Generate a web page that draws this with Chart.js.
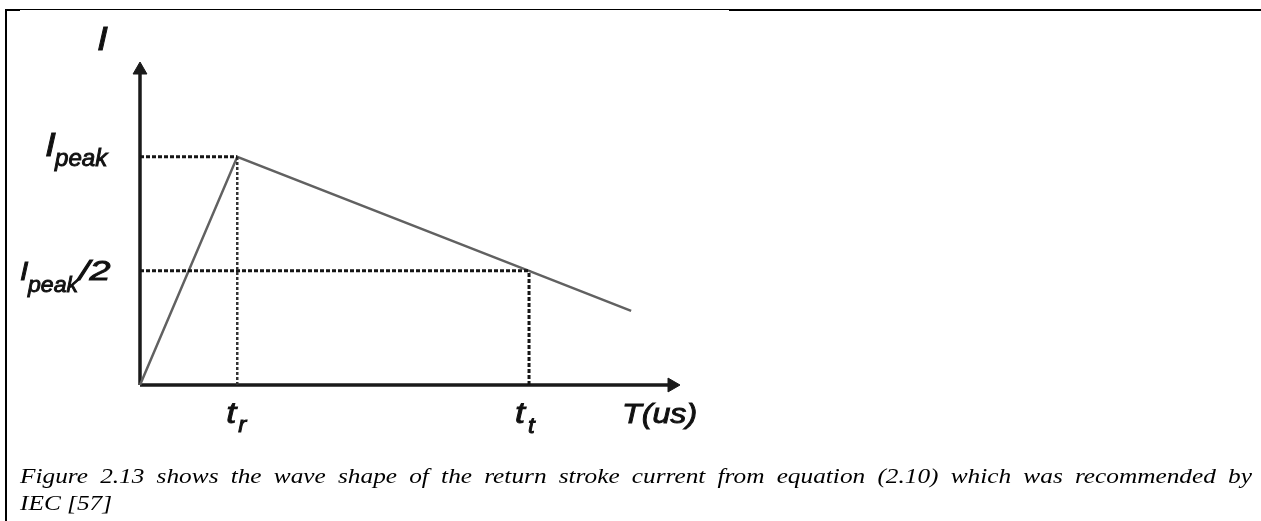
<!DOCTYPE html>
<html>
<head>
<meta charset="utf-8">
<script src="https://cdn.jsdelivr.net/npm/chart.js@4/dist/chart.umd.min.js"></script>
<style>
    html, body { margin: 0; padding: 0; background: #fff; }
    #bordeIzq { position: absolute; left: 5px; top: 9px; width: 2px; height: 512px; background: #000; }
    #bordeSup1 { position: absolute; left: 5px; top: 9px; width: 724px; height: 1px; background: #000; }
    #bordeSup2 { position: absolute; left: 729px; top: 9px; width: 532px; height: 2px; background: #000; }
    #bordeSup3 { position: absolute; left: 5px; top: 9px; width: 15px; height: 2px; background: #000; }
    #canvasGrafica { position: absolute; left: 0; top: 0; }
    .pie { position: absolute; left: 20px; transform-origin: 0 0;
           font-family: "Liberation Serif", "Times New Roman", serif; font-style: italic; font-size: 22px;
           line-height: 27px; color: #000; }
    #pie1 { text-align: justify; text-align-last: justify; }
    #medida { position: absolute; left: 0; top: 600px; white-space: nowrap; visibility: hidden;
              font-family: "Liberation Serif", "Times New Roman", serif; font-style: italic; font-size: 22px; }
</style>
</head>
<body>
<div id="bordeIzq"></div>
<div id="bordeSup1"></div>
<div id="bordeSup2"></div>
<div id="bordeSup3"></div>
<canvas id="canvasGrafica" width="1261" height="521"></canvas>
<div class="pie" id="pie1" style="top: 462px;">Figure 2.13 shows the wave shape of the return stroke current from equation (2.10) which was recommended by</div>
<div class="pie" id="pie2" style="top: 489px;">IEC [57]</div>
<span id="medida"></span>
<script>
// waveform: 0 -> t_r (peak) -> t_t (half) -> end of the drawn tail
var tiempos = [0, 10, 40, 50.5];
var corriente = [0, 1, 0.5, 0.325];
var tr = 10;
var tt = 40;
var iPeak = 1;
var iHalf = 0.5;
var xMax = 54.7;
var yMax = 1.38;

var tituloY = "I";
var tituloX = "T(us)";
var nombresY = ["I", "I"];
var subY = ["peak", "peak"];
var sufijoY = ["", "/2"];
var nombresX = ["t", "t"];
var subX = ["r", "t"];

function punto(x, y) {
    return {x: x, y: y};
}

function escribir(ctx, str, x, y, size, sx) {
    ctx.save();
    ctx.translate(x, y);
    ctx.scale(sx, 1);
    ctx.font = "italic " + size + "px 'Liberation Sans', Arial, sans-serif";
    ctx.fillStyle = "#111";
    ctx.strokeStyle = "#111";
    ctx.lineWidth = 0.9;
    ctx.textBaseline = "alphabetic";
    ctx.fillText(str, 0, 0);
    ctx.strokeText(str, 0, 0);
    ctx.restore();
}

var etiquetas = {
    id: "etiquetas",
    afterDatasetsDraw: function (chart) {
        var ctx = chart.ctx;
        var sx = chart.scales.x;
        var sy = chart.scales.y;
        var x0 = sx.getPixelForValue(0);
        var yTop = sy.getPixelForValue(yMax);
        var yBot = sy.getPixelForValue(0);

        // axis titles
        escribir(ctx, tituloY, x0 - 43, yTop - 20, 34, 1.15);
        escribir(ctx, tituloX, sx.getPixelForValue(xMax) - 50, yBot + 38, 28, 1.15);

        // y labels
        var yp = sy.getPixelForValue(iPeak);
        escribir(ctx, nombresY[0], x0 - 95, yp - 1, 34, 1.15);
        escribir(ctx, subY[0], x0 - 85, yp + 9, 23, 1.05);
        var yh = sy.getPixelForValue(iHalf);
        escribir(ctx, nombresY[1], x0 - 120, yh + 9, 26, 1.15);
        escribir(ctx, subY[1], x0 - 112, yh + 21, 22, 1.05);
        escribir(ctx, sufijoY[1], x0 - 61, yh + 9, 27, 1.4);

        // x labels
        var xr = sx.getPixelForValue(tr);
        escribir(ctx, nombresX[0], xr - 11, yBot + 38, 30, 1.2);
        escribir(ctx, subX[0], xr + 1, yBot + 47, 22, 1.1);
        var xt = sx.getPixelForValue(tt);
        escribir(ctx, nombresX[1], xt - 14, yBot + 38, 30, 1.2);
        escribir(ctx, subX[1], xt - 1, yBot + 48, 22, 1.1);
    }
};

document.addEventListener("DOMContentLoaded", function () {
    // the scanned caption is a little wider than plain Times: stretch it and justify line 1
    var pie1 = document.getElementById("pie1");
    var pie2 = document.getElementById("pie2");
    var medida = document.getElementById("medida");
    medida.textContent = pie1.textContent;
    var natural = medida.getBoundingClientRect().width;
    var escala = Math.min(1.15, 1232 / (natural + 4));
    pie1.style.width = (1232 / escala) + "px";
    pie1.style.transform = "scaleX(" + escala + ")";
    pie2.style.transform = "scaleX(" + escala + ")";

    var canvasGrafica = document.getElementById("canvasGrafica");
    var onda = [];
    for (let i = 0; i < tiempos.length; i++) {
        onda.push(punto(tiempos[i], corriente[i]));
    }

    var punteada = {
        borderColor: "#151515",
        borderWidth: 3,
        borderDash: [4, 2],
        pointRadius: 0,
        showLine: true,
        clip: false
    };

    var miGrafica = new Chart(canvasGrafica, {
        type: "scatter",
        data: {
            datasets: [
                Object.assign({data: [punto(0, iPeak), punto(tr, iPeak)]}, punteada),
                Object.assign({data: [punto(tr, 0), punto(tr, iPeak)]}, punteada, {borderDash: [3, 2], borderColor: "#333", borderWidth: 2.5}),
                Object.assign({data: [punto(0, iHalf), punto(tt, iHalf)]}, punteada),
                Object.assign({data: [punto(tt, 0), punto(tt, iHalf)]}, punteada),
                {
                    label: "I(t)",
                    data: onda,
                    borderColor: "#616161",
                    borderWidth: 2.5,
                    pointRadius: 0,
                    showLine: true,
                    clip: false
                },
                {
                    data: [punto(0, 0), punto(xMax, 0)],
                    borderColor: "#1a1a1a",
                    backgroundColor: "#1a1a1a",
                    borderWidth: 3.5,
                    pointRadius: [0, 8],
                    pointBorderWidth: 1,
                    pointStyle: "triangle",
                    rotation: 90,
                    showLine: true,
                    clip: false
                },
                {
                    data: [punto(0, 0), punto(0, yMax)],
                    borderColor: "#1a1a1a",
                    backgroundColor: "#1a1a1a",
                    borderWidth: 3.5,
                    pointRadius: [0, 8],
                    pointBorderWidth: 1,
                    pointStyle: "triangle",
                    rotation: 0,
                    showLine: true,
                    clip: false
                }
            ]
        },
        options: {
            responsive: false,
            animation: false,
            layout: {
                padding: {left: 140, right: 589, top: 70, bottom: 136}
            },
            scales: {
                x: {type: "linear", min: 0, max: xMax, display: false},
                y: {type: "linear", min: 0, max: yMax, display: false}
            },
            plugins: {
                legend: {display: false},
                tooltip: {enabled: false}
            }
        },
        plugins: [etiquetas]
    });
});
</script>
</body>
</html>
